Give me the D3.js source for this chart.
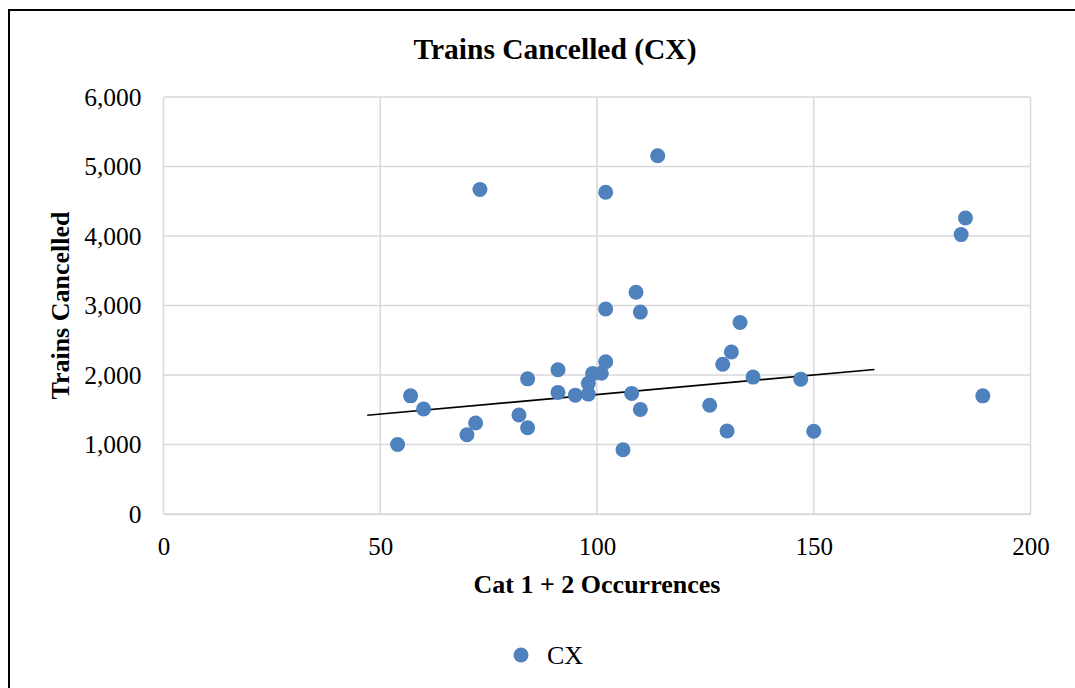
<!DOCTYPE html>
<html>
<head>
<meta charset="utf-8">
<script src="https://cdn.jsdelivr.net/npm/d3@7"></script>
<style>
  html, body { margin: 0; padding: 0; background: #ffffff; }
  svg { display: block; }
</style>
</head>
<body>
<svg id="chart" width="1075" height="688"></svg>
<script>
// Cat 1 + 2 occurrences (x) vs trains cancelled (y), series CX
const occurrences = [114, 73, 102, 109, 102, 110, 102, 91, 84, 99, 101, 98, 91, 95, 98, 108, 110,
                     57, 60, 82, 84, 72, 70, 54, 106, 185, 184, 133, 131, 129, 136, 147, 126, 130, 150, 189];
const cancelled   = [5155, 4670, 4630, 3190, 2950, 2905, 2190, 2075, 1945, 2020, 2025, 1880, 1750, 1710, 1725, 1735, 1505,
                     1700, 1510, 1425, 1240, 1310, 1140, 1000, 925, 4260, 4020, 2755, 2330, 2155, 1970, 1940, 1565, 1195, 1190, 1700];

// linear trend line end points
const trendX = [47, 164];
const trendY = [1420, 2080];

const xTicks = [0, 50, 100, 150, 200];
const yTicks = [0, 1000, 2000, 3000, 4000, 5000, 6000];

const seriesName = "CX";
const titleText = "Trains Cancelled (CX)";
const xTitle = "Cat 1 + 2 Occurrences";
const yTitle = "Trains Cancelled";

const FONT = "'Liberation Serif', 'Times New Roman', serif";
const BLUE = "#4F81BD";
const GRID = "#d9d9d9";

const svg = d3.select("#chart");

// chart frame
svg.append("rect")
  .attr("x", 9).attr("y", 10)
  .attr("width", 1100).attr("height", 700)
  .attr("fill", "#ffffff")
  .attr("stroke", "#000000")
  .attr("stroke-width", 2);

const plot = { left: 163.5, right: 1030.5, top: 97, bottom: 514 };

const x = d3.scaleLinear().domain([0, 200]).range([plot.left, plot.right]);
const y = d3.scaleLinear().domain([0, 6000]).range([plot.bottom, plot.top]);

// gridlines
const grid = svg.append("g");
grid.selectAll("line.h").data(yTicks).join("line")
  .attr("class", "h")
  .attr("x1", plot.left).attr("x2", plot.right)
  .attr("y1", d => y(d)).attr("y2", d => y(d))
  .attr("stroke", GRID).attr("stroke-width", 1.5);
grid.selectAll("line.v").data(xTicks).join("line")
  .attr("class", "v")
  .attr("y1", plot.top).attr("y2", plot.bottom)
  .attr("x1", d => x(d)).attr("x2", d => x(d))
  .attr("stroke", GRID).attr("stroke-width", 1.5);

// axes (labels only, lines come from the grid)
const xAxis = d3.axisBottom(x).tickValues(xTicks).tickSize(0).tickPadding(0)
  .tickFormat(d3.format("d"));
const gx = svg.append("g").attr("transform", `translate(0,${plot.bottom})`).call(xAxis);
gx.select(".domain").attr("stroke", GRID).attr("stroke-width", 1.5);
gx.selectAll("text")
  .attr("y", 41).attr("dy", null)
  .attr("fill", "#000").attr("font-family", FONT).attr("font-size", 25);

const yAxis = d3.axisLeft(y).tickValues(yTicks).tickSize(0).tickPadding(0)
  .tickFormat(d3.format(","));
const gy = svg.append("g").attr("transform", `translate(${plot.left},0)`).call(yAxis);
gy.select(".domain").remove();
gy.selectAll("text")
  .attr("x", -22).attr("dy", "0.33em")
  .attr("fill", "#000").attr("font-family", FONT).attr("font-size", 25.5);

// trend line
svg.append("line")
  .attr("x1", x(trendX[0])).attr("y1", y(trendY[0]))
  .attr("x2", x(trendX[1])).attr("y2", y(trendY[1]))
  .attr("stroke", "#000").attr("stroke-width", 1.6);

// points
const pts = occurrences.map((v, i) => ({ x: v, y: cancelled[i] }));
svg.append("g").selectAll("circle").data(pts).join("circle")
  .attr("cx", d => x(d.x)).attr("cy", d => y(d.y))
  .attr("r", 7.5)
  .attr("fill", BLUE);

// titles
svg.append("text")
  .attr("x", 555).attr("y", 59)
  .attr("text-anchor", "middle")
  .attr("font-family", FONT).attr("font-size", 29.5).attr("font-weight", "bold")
  .text(titleText);

svg.append("text")
  .attr("x", (plot.left + plot.right) / 2).attr("y", 593)
  .attr("text-anchor", "middle")
  .attr("font-family", FONT).attr("font-size", 26).attr("font-weight", "bold")
  .text(xTitle);

svg.append("text")
  .attr("transform", `translate(69,${(plot.top + plot.bottom) / 2}) rotate(-90)`)
  .attr("text-anchor", "middle")
  .attr("font-family", FONT).attr("font-size", 26).attr("font-weight", "bold")
  .text(yTitle);

// legend
const legend = svg.append("g").attr("transform", "translate(521,655)");
legend.append("circle").attr("r", 7.5).attr("fill", BLUE);
legend.append("text")
  .attr("x", 26).attr("y", 8.5)
  .attr("font-family", FONT).attr("font-size", 26)
  .text(seriesName);
</script>
</body>
</html>
